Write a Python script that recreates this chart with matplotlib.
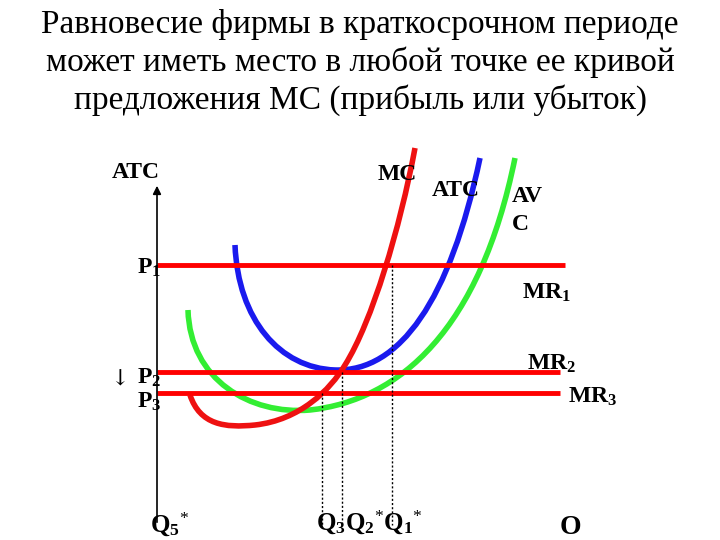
import matplotlib
matplotlib.use("Agg")
import matplotlib.pyplot as plt
from matplotlib.path import Path
from matplotlib.patches import PathPatch

plt.rcParams["font.family"] = ["Liberation Serif", "DejaVu Serif"]
plt.rcParams["mathtext.fontset"] = "custom"
plt.rcParams["mathtext.rm"] = "Liberation Serif"
plt.rcParams["mathtext.it"] = "Liberation Serif:italic"
plt.rcParams["mathtext.bf"] = "Liberation Serif:bold"

# ── Data (pixel-like coordinates of the slide) ──────────────────────────────
title_lines = ["Равновесие фирмы в краткосрочном периоде",
               "может иметь место в любой точке ее кривой",
               "предложения МС (прибыль или убыток)"]

# cubic bezier control points: start, (c1, c2, end) ...
mc_pts  = [(190, 395), (200, 425), (225, 428), (255, 425),
           (300, 420), (330, 390), (345, 365),
           (372, 322), (400, 228), (415, 148)]
atc_pts = [(235, 245), (238, 320), (280, 368), (335, 370),
           (400, 372), (450, 300), (480, 158)]
avc_pts = [(188, 310), (190, 380), (250, 415), (310, 410),
           (400, 400), (480, 330), (515, 158)]

price_levels = [265, 372, 393]          # P1, P2, P3
price_x_end  = [565, 560, 560]
q_x          = [392, 342, 322]          # Q1, Q2, Q3
q_top        = [265, 372, 393]
axis_bottom  = 525

fig = plt.figure(figsize=(7.2, 5.4), dpi=100)
ax = fig.add_axes([0, 0, 1, 1])
ax.set_xlim(0, 720)
ax.set_ylim(540, 0)
ax.axis("off")

for i, line in enumerate(title_lines):
    ax.text(360, 24 + i * 38, line, ha="center", va="center", fontsize=24)

# y axis with arrow
ax.annotate("", xy=(157, 183), xytext=(157, axis_bottom),
            arrowprops=dict(arrowstyle="-|>", color="black", lw=1.2, mutation_scale=12))

# horizontal price lines
for y, xe in zip(price_levels, price_x_end):
    ax.plot([157, xe], [y, y], color="red", lw=3.5, solid_capstyle="butt")

# dotted quantity lines
for x, yt in zip(q_x, q_top):
    ax.plot([x, x], [yt, axis_bottom], color="black", lw=1, ls=(0, (1.5, 1.5)))

def bez(pts, color):
    codes = [Path.MOVETO] + [Path.CURVE4] * (len(pts) - 1)
    ax.add_patch(PathPatch(Path(pts, codes), fill=False, edgecolor=color,
                           lw=4, capstyle="butt"))

bez(avc_pts, "#33ee33")
bez(atc_pts, "#1a1aee")
bez(mc_pts, "#ee1111")

lab = dict(fontsize=17, fontweight="bold", va="center")
ax.text(112, 172, "ATC", **lab)
ax.text(378, 174, "MC", **lab)
ax.text(432, 190, "ATC", **lab)
ax.text(512, 196, "AV", **lab)
ax.text(512, 225, "C", **lab)
ax.text(137, 268, r"P$_{\mathbf{1}}$", **lab)
ax.text(137, 378, r"P$_{\mathbf{2}}$", **lab)
ax.text(137, 402, r"P$_{\mathbf{3}}$", **lab)
ax.text(110, 380, "↓", fontsize=16, va="center", family="DejaVu Serif")
ax.text(522, 293, r"MR$_{\mathbf{1}}$", **lab)
ax.text(527, 364, r"MR$_{\mathbf{2}}$", **lab)
ax.text(568, 397, r"MR$_{\mathbf{3}}$", **lab)
ax.text(150, 524, r"Q$_{\mathbf{5}}$$^{*}$", fontsize=18, fontweight="bold", va="center")
ax.text(316, 522, r"Q$_{\mathbf{3}}$Q$_{\mathbf{2}}$$^{*}$Q$_{\mathbf{1}}$$^{*}$",
        fontsize=18, fontweight="bold", va="center")
ax.text(560, 527, "O", fontsize=20, fontweight="bold", va="center")

fig.savefig("out.png", dpi=100)
